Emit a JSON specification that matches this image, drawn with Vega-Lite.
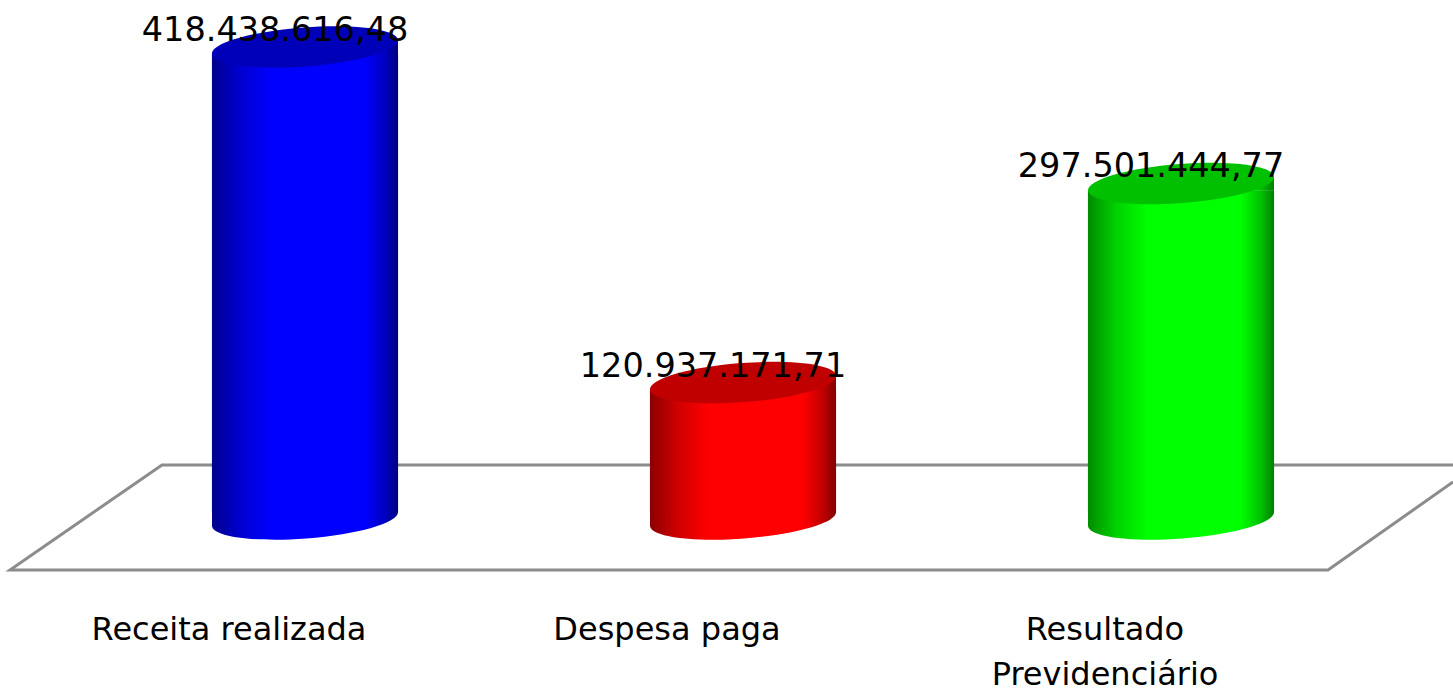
{
"$schema":"https://vega.github.io/schema/vega-lite/v6.json",
"width":1453,"height":690,"padding":0,"autosize":{"type":"none"},
"background":"white",
"config":{"view":{"stroke":null},"font":"DejaVu Sans"},
"datasets":{
"bars":[
{"categoria":"Receita realizada","valor":418438616.48,"rotulo":"418.438.616,48"},
{"categoria":"Despesa paga","valor":120937171.71,"rotulo":"120.937.171,71"},
{"categoria":"Resultado Previdenciário","valor":297501444.77,"rotulo":"297.501.444,77"}],
"floor":[
{"ordem":1,"pos":3.621,"nivel":32800000},
{"ordem":2,"pos":3.3356,"nivel":-45200000},
{"ordem":3,"pos":0.3265,"nivel":-45200000},
{"ordem":4,"pos":0.6735,"nivel":47870000},
{"ordem":5,"pos":3.621,"nivel":47870000}]
},
"layer":[
{"data":{"name":"floor"},
 "mark":{"type":"line","color":"#8c8c8c","strokeWidth":3,"strokeJoin":"miter"},
 "encoding":{
  "x":{"field":"pos","type":"quantitative","scale":{"domain":[0.3037,3.621],"nice":false,"zero":false},"axis":null},
  "y":{"field":"nivel","type":"quantitative","scale":{"domain":[-151600000,460100000],"nice":false,"zero":false},"axis":null},
  "order":{"field":"ordem"}}},
{"data":{"name":"bars"},
 "encoding":{
  "x":{"field":"categoria","type":"nominal","sort":null,
   "scale":{"domain":["Receita realizada","Despesa paga","Resultado Previdenciário"],"range":[86,1400],"paddingInner":0.575,"paddingOuter":0.2875},
   "axis":{"orient":"bottom","title":null,"domain":false,"ticks":false,"grid":false,"labelAngle":0,"offset":-76,"labelPadding":0,"labelOffset":-76,"labelFontSize":32,"labelFont":"DejaVu Sans","labelColor":"#000000","labelLimit":500,"labelLineHeight":45,"labelOverlap":false,"labelBound":false,"labelFlush":false,"labelBaseline":"top","labelExpr":"datum.label=='Resultado Previdenciário'?['Resultado','Previdenciário']:datum.label"}},
  "y":{"field":"valor","type":"quantitative","scale":{"domain":[-151600000,460100000],"nice":false,"zero":false},"axis":null}},
 "layer":[
  {"transform":[{"filter":"datum.categoria=='Receita realizada'"}],
   "layer":[
    {"mark":{"type":"bar","yOffset":7,"fill":{"gradient":"linear","x1":0,"x2":1,"y1":0,"y2":0,"stops":[{"offset":0,"color":"#00008c"},{"offset":0.15,"color":"#0000d0"},{"offset":0.32,"color":"#0000ff"},{"offset":0.82,"color":"#0000ff"},{"offset":0.93,"color":"#0000c0"},{"offset":1,"color":"#000080"}]}},"encoding":{"y2":{"datum":6000000}}},
    {"mark":{"type":"point","filled":true,"opacity":1,"size":34596,"shape":"M -1 -0.08 L 1 -0.08 L 1 -0.075 A 1 0.21 -4.3 0 1 -1 0.075 Z","fill":{"gradient":"linear","x1":0,"x2":1,"y1":0,"y2":0,"stops":[{"offset":0,"color":"#00008c"},{"offset":0.15,"color":"#0000d0"},{"offset":0.32,"color":"#0000ff"},{"offset":0.82,"color":"#0000ff"},{"offset":0.93,"color":"#0000c0"},{"offset":1,"color":"#000080"}]}},"encoding":{"y":{"datum":0}}},
    {"mark":{"type":"point","filled":true,"opacity":1,"size":34596,"shape":"M -1 0.075 L 1 -0.075 L 1 0.08 L -1 0.08 Z","fill":{"gradient":"linear","x1":0,"x2":1,"y1":0,"y2":0,"stops":[{"offset":0,"color":"#00008c"},{"offset":0.15,"color":"#0000d0"},{"offset":0.32,"color":"#0000ff"},{"offset":0.82,"color":"#0000ff"},{"offset":0.93,"color":"#0000c0"},{"offset":1,"color":"#000080"}]}}}
   ]},
  {"transform":[{"filter":"datum.categoria=='Despesa paga'"}],
   "layer":[
    {"mark":{"type":"bar","yOffset":7,"fill":{"gradient":"linear","x1":0,"x2":1,"y1":0,"y2":0,"stops":[{"offset":0,"color":"#8c0000"},{"offset":0.15,"color":"#d00000"},{"offset":0.32,"color":"#ff0000"},{"offset":0.82,"color":"#ff0000"},{"offset":0.93,"color":"#c00000"},{"offset":1,"color":"#800000"}]}},"encoding":{"y2":{"datum":6000000}}},
    {"mark":{"type":"point","filled":true,"opacity":1,"size":34596,"shape":"M -1 -0.08 L 1 -0.08 L 1 -0.075 A 1 0.21 -4.3 0 1 -1 0.075 Z","fill":{"gradient":"linear","x1":0,"x2":1,"y1":0,"y2":0,"stops":[{"offset":0,"color":"#8c0000"},{"offset":0.15,"color":"#d00000"},{"offset":0.32,"color":"#ff0000"},{"offset":0.82,"color":"#ff0000"},{"offset":0.93,"color":"#c00000"},{"offset":1,"color":"#800000"}]}},"encoding":{"y":{"datum":0}}},
    {"mark":{"type":"point","filled":true,"opacity":1,"size":34596,"shape":"M -1 0.075 L 1 -0.075 L 1 0.08 L -1 0.08 Z","fill":{"gradient":"linear","x1":0,"x2":1,"y1":0,"y2":0,"stops":[{"offset":0,"color":"#8c0000"},{"offset":0.15,"color":"#d00000"},{"offset":0.32,"color":"#ff0000"},{"offset":0.82,"color":"#ff0000"},{"offset":0.93,"color":"#c00000"},{"offset":1,"color":"#800000"}]}}}
   ]},
  {"transform":[{"filter":"datum.categoria=='Resultado Previdenciário'"}],
   "layer":[
    {"mark":{"type":"bar","yOffset":7,"fill":{"gradient":"linear","x1":0,"x2":1,"y1":0,"y2":0,"stops":[{"offset":0,"color":"#008c00"},{"offset":0.15,"color":"#00d000"},{"offset":0.32,"color":"#00ff00"},{"offset":0.82,"color":"#00ff00"},{"offset":0.93,"color":"#00c000"},{"offset":1,"color":"#008000"}]}},"encoding":{"y2":{"datum":6000000}}},
    {"mark":{"type":"point","filled":true,"opacity":1,"size":34596,"shape":"M -1 -0.08 L 1 -0.08 L 1 -0.075 A 1 0.21 -4.3 0 1 -1 0.075 Z","fill":{"gradient":"linear","x1":0,"x2":1,"y1":0,"y2":0,"stops":[{"offset":0,"color":"#008c00"},{"offset":0.15,"color":"#00d000"},{"offset":0.32,"color":"#00ff00"},{"offset":0.82,"color":"#00ff00"},{"offset":0.93,"color":"#00c000"},{"offset":1,"color":"#008000"}]}},"encoding":{"y":{"datum":0}}},
    {"mark":{"type":"point","filled":true,"opacity":1,"size":34596,"shape":"M -1 0.075 L 1 -0.075 L 1 0.08 L -1 0.08 Z","fill":{"gradient":"linear","x1":0,"x2":1,"y1":0,"y2":0,"stops":[{"offset":0,"color":"#008c00"},{"offset":0.15,"color":"#00d000"},{"offset":0.32,"color":"#00ff00"},{"offset":0.82,"color":"#00ff00"},{"offset":0.93,"color":"#00c000"},{"offset":1,"color":"#008000"}]}}}
   ]},
  {"mark":{"type":"point","filled":true,"opacity":1,"size":34596,"shape":"M -1 0.075 A 1 0.21 -4.3 1 1 1 -0.075 A 1 0.21 -4.3 1 1 -1 0.075 Z"},
   "encoding":{"color":{"field":"categoria","type":"nominal","legend":null,"scale":{"domain":["Receita realizada","Despesa paga","Resultado Previdenciário"],"range":["#0000b8","#c00000","#00c000"]}}}},
  {"mark":{"type":"text","align":"center","baseline":"middle","dx":-30,"dy":-16,"fontSize":33.5,"font":"DejaVu Sans","color":"#000000"},
   "encoding":{"text":{"field":"rotulo"}}}
 ]}
],
"resolve":{"scale":{"x":"independent"},"axis":{"x":"independent"}}
}
